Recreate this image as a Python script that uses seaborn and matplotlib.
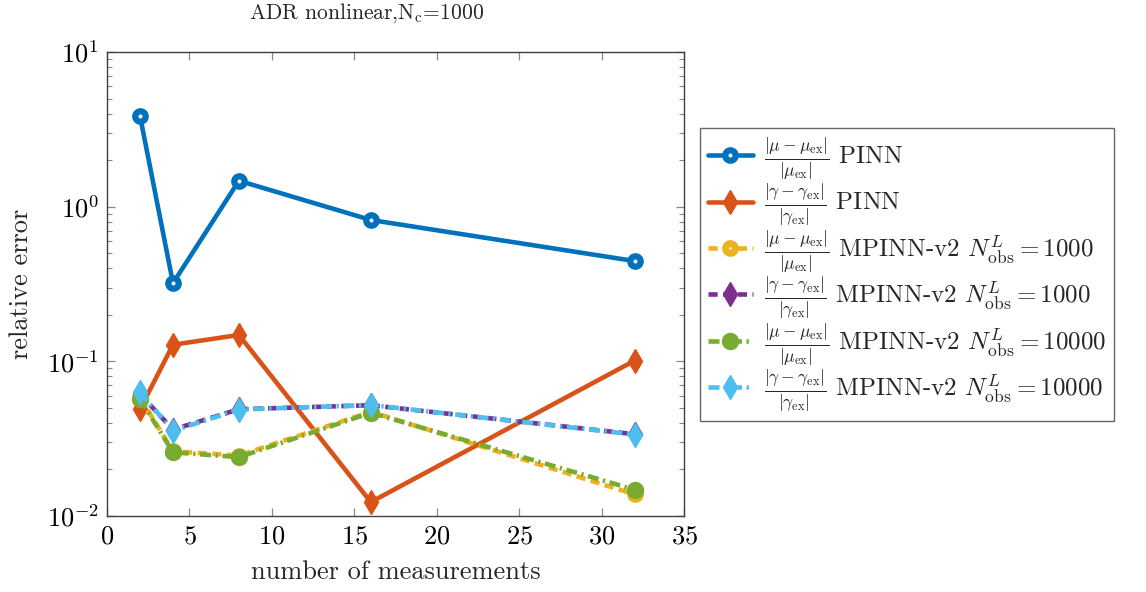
import matplotlib
matplotlib.use("Agg")
import matplotlib.pyplot as plt
import matplotlib.ticker as mticker
import numpy as np
import pandas as pd
import seaborn as sns

# number of measurements
measurements = [2, 4, 8, 16, 32]

# relative errors of each identified parameter
mu_pinn = [3.86, 0.32, 1.47, 0.82, 0.445]
gamma_pinn = [0.049, 0.128, 0.148, 0.0123, 0.101]
mu_mpinn_1000 = [0.0585, 0.0262, 0.0246, 0.0472, 0.0138]
gamma_mpinn_1000 = [0.0615, 0.0362, 0.0490, 0.0520, 0.0338]
mu_mpinn_10000 = [0.0570, 0.0258, 0.0240, 0.0465, 0.0148]
gamma_mpinn_10000 = [0.0630, 0.0355, 0.0488, 0.0522, 0.0336]

frac_mu = r"$\frac{|\mu-\mu_{\rm ex}|}{|\mu_{\rm ex}|}$"
frac_gamma = r"$\frac{|\gamma-\gamma_{\rm ex}|}{|\gamma_{\rm ex}|}$"
series_labels = [
    frac_mu + " PINN",
    frac_gamma + " PINN",
    frac_mu + r" MPINN-v2 $N^{L}_{\rm obs}{=}1000$",
    frac_gamma + r" MPINN-v2 $N^{L}_{\rm obs}{=}1000$",
    frac_mu + r" MPINN-v2 $N^{L}_{\rm obs}{=}10000$",
    frac_gamma + r" MPINN-v2 $N^{L}_{\rm obs}{=}10000$",
]
series_values = [mu_pinn, gamma_pinn, mu_mpinn_1000, gamma_mpinn_1000,
                 mu_mpinn_10000, gamma_mpinn_10000]

sns.set_style("ticks")
plt.rcParams["font.family"] = ["cmr10", "DejaVu Serif"]
plt.rcParams["mathtext.fontset"] = "cm"
plt.rcParams["axes.formatter.use_mathtext"] = True
plt.rcParams["axes.unicode_minus"] = False

colors = ["#0072BD", "#D95319", "#EDB120", "#7E2F8E", "#77AC30", "#4DBEEE"]
styles = [
    dict(ls="-", marker="o", mfc="white", ms=7.5, mew=4.5),
    dict(ls="-", marker="d", ms=12, mew=1),
    dict(ls=(0, (2.0, 1.2)), marker="o", mfc="white", ms=7, mew=5),
    dict(ls=(0, (2.0, 1.2)), marker="d", ms=12, mew=1),
    dict(ls=(0, (2.4, 1.0, 0.5, 1.0)), marker="o", mfc="white", ms=6.5, mew=6),
    dict(ls=(0, (2.4, 1.0, 0.5, 1.0)), marker="d", ms=12, mew=1),
]

df = pd.DataFrame({
    "x": np.tile(measurements, len(series_labels)),
    "y": np.concatenate(series_values),
    "series": np.repeat(series_labels, len(measurements)),
})

fig = plt.figure(figsize=(11.46, 5.92), dpi=100)
ax = fig.add_axes([0.0934, 0.1284, 0.5035, 0.7838])

for lab, col, st in zip(series_labels, colors, styles):
    sub = df[df["series"] == lab]
    sns.lineplot(data=sub, x="x", y="y", ax=ax, color=col, lw=3.3,
                 label=lab, linestyle=st["ls"], marker=st["marker"],
                 markersize=st["ms"], markeredgewidth=st["mew"],
                 markeredgecolor=col,
                 markerfacecolor=st.get("mfc", col), zorder=3)

ax.set_yscale("log")
ax.set_ylim(1e-2, 1e1)
ax.set_xlim(0, 35)
ax.set_xticks(np.arange(0, 36, 5))
ax.yaxis.set_major_locator(mticker.LogLocator(base=10, numticks=10))
ax.yaxis.set_minor_locator(mticker.LogLocator(base=10, subs=np.arange(2, 10), numticks=20))
ax.yaxis.set_minor_formatter(mticker.NullFormatter())

ax.tick_params(which="both", direction="in", top=True, right=True,
               color="#888888", labelsize=19, labelcolor="black")
ax.tick_params(which="major", length=6, width=0.9, pad=6)
ax.tick_params(which="minor", length=3.5, width=0.8)
for sp in ax.spines.values():
    sp.set_color("#404040")
    sp.set_linewidth(1.0)

ax.set_xlabel("number of measurements", fontsize=19)
ax.set_ylabel("relative error", fontsize=19)
ax.xaxis.set_label_coords(0.5, -0.095)
ax.yaxis.set_label_coords(-0.128, 0.5)
fig.text(367 / 1146, 1 - 13 / 592, r"ADR nonlinear,N$_{\rm c}$=1000",
         fontsize=15.5, ha="center", va="center")

leg = ax.legend(loc="upper left", bbox_to_anchor=(700 / 1146, 1 - 128 / 592),
                bbox_transform=fig.transFigure, fontsize=18, frameon=True,
                fancybox=False, edgecolor="#404040", handlelength=1.8,
                borderpad=0.3, labelspacing=0.0, handletextpad=0.45,
                borderaxespad=0)
leg.get_frame().set_linewidth(1.0)

fig.savefig("out.png", dpi=100)
